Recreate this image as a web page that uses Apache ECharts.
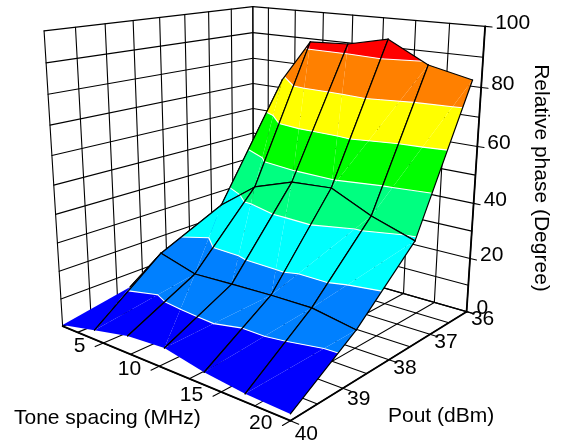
<!DOCTYPE html><html><head><meta charset="utf-8"><style>html,body{margin:0;padding:0;background:#fff}#c{width:566px;height:446px}</style></head><body><div id="c"></div>
<script src="https://cdn.jsdelivr.net/npm/echarts@6/dist/echarts.min.js"></script>
<script>
// ---- data ----
var toneMHz=[1,4.2,7.3,10.5,13.7,16.8,20];
var poutRow0=[40,40,40,40,40,40,40];
var poutRow1=[38.75,38.75,38.75,38.75,38.75,38.75,38.75];
var poutRow2=[37.5,37.5,37.5,37.5,37.5,37.5,37.5];
var poutRow3=[36.25,36.09,36.25,36.25,36.25,36.25,36.25];
var phaseRow0=[0.4,3.4,6.1,7.0,4.2,2.6,2.1];
var phaseRow1=[4.8,21.7,18.0,18.6,19.1,19.2,16.7];
var phaseRow2=[11,31.9,41.8,46.6,47.6,41.2,36.4];
var phaseRow3=[20,73.7,89.9,90.6,93.7,86.5,83.3];
var toneTicks=[5,10,15,20];
var toneGrid=[1,2.5,5,7.5,10,12.5,15,17.5,20];
var poutTicks=[36,37,38,39,40];
var poutGridLines=[36,36.5,37,37.5,38,38.5,39,39.5,40];
var phaseTicks=[0,20,40,60,80,100];
var phaseGridLines=[0,10,20,30,40,50,60,70,80,90,100];
var bandLevels=[0,12.5,25,37.5,50,62.5,75,87.5,100];
var bandColors=['#0000ff','#0080ff','#00ffff','#00ff80','#00ff00','#ffff00','#ff8000','#ff0000'];
var toneRange=[1,20],poutRange=[40,36],phaseRange=[0,100];
// ---- 3D box calibration: box corner (u,v,w) -> screen ----
var boxCorners=[[0,0,0,63,325],[1,0,0,290,422],[1,1,0,467,310],[0,1,0,253,252],[0,0,1,44,31],[0,1,1,253,6],[1,1,1,485,27]];
function solve(A,b){var n=b.length,M=A.map(function(r,i){return r.concat([b[i]])});for(var i=0;i<n;i++){var p=i,k;for(k=i+1;k<n;k++)if(Math.abs(M[k][i])>Math.abs(M[p][i]))p=k;var t=M[i];M[i]=M[p];M[p]=t;for(k=0;k<n;k++)if(k!=i){var f=M[k][i]/M[i][i];for(var j=i;j<=n;j++)M[k][j]-=f*M[i][j];}}return M.map(function(r,i){return r[n]/r[i]});}
var R=[],Y=[];boxCorners.forEach(function(c){var u=c[0],v=c[1],w=c[2],x=c[3],y=c[4];R.push([u,v,w,1,0,0,0,0,-x*u,-x*v,-x*w]);Y.push(x);R.push([0,0,0,0,u,v,w,1,-y*u,-y*v,-y*w]);Y.push(y);});
var N=[],B=[];for(var i=0;i<11;i++){N.push([]);var s=0,k;for(k=0;k<R.length;k++)s+=R[k][i]*Y[k];B.push(s);for(var j=0;j<11;j++){s=0;for(k=0;k<R.length;k++)s+=R[k][i]*R[k][j];N[i].push(s);}}
var P=solve(N,B);
function proj(u,v,w){var d=P[8]*u+P[9]*v+P[10]*w+1;return [(P[0]*u+P[1]*v+P[2]*w+P[3])/d,(P[4]*u+P[5]*v+P[6]*w+P[7])/d];}
function U(t){return (t-toneRange[0])/(toneRange[1]-toneRange[0]);}
function V(p){return (p-poutRange[0])/(poutRange[1]-poutRange[0]);}
function W(z){return (z-phaseRange[0])/(phaseRange[1]-phaseRange[0]);}
var poutGrid=[poutRow0,poutRow1,poutRow2,poutRow3],phaseGrid=[phaseRow0,phaseRow1,phaseRow2,phaseRow3];
function vtx(c,r){return [U(toneMHz[c]),V(poutGrid[r][c]),phaseGrid[r][c]];}
function scr(api,u,v,w){return api.coord(proj(u,v,w));}
function P3(api,q){return scr(api,q[0],q[1],W(q[2]));}
function lerp(a,b,t){return [a[0]+(b[0]-a[0])*t,a[1]+(b[1]-a[1])*t,a[2]+(b[2]-a[2])*t];}
function clip(poly,lim,keepAbove){var out=[];for(var i=0;i<poly.length;i++){var a=poly[i],b=poly[(i+1)%poly.length];var ai=keepAbove?a[2]>=lim:a[2]<=lim,bi=keepAbove?b[2]>=lim:b[2]<=lim;if(ai)out.push(a);if(ai!==bi)out.push(lerp(a,b,(lim-a[2])/(b[2]-a[2])));}return out;}
function seg(api,a,b,color,w){return {type:'line',shape:{x1:a[0],y1:a[1],x2:b[0],y2:b[1]},style:{stroke:color,lineWidth:w,lineCap:'round'},silent:true};}
function triangle(api,t,kids){
  for(var b=0;b<bandColors.length;b++){var poly=clip(clip(t,bandLevels[b],true),bandLevels[b+1],false);if(poly.length>=3)kids.push({type:'polygon',shape:{points:poly.map(function(q){return P3(api,q);})},style:{fill:bandColors[b]},silent:true});}
  for(var l=1;l<bandLevels.length-1;l++){var L=bandLevels[l],pts=[];for(var e=0;e<3;e++){var a=t[e],c=t[(e+1)%3];if((a[2]<L)!==(c[2]<L))pts.push(lerp(a,c,(L-a[2])/(c[2]-a[2])));}if(pts.length===2)kids.push(seg(api,P3(api,pts[0]),P3(api,pts[1]),'#ffffff',1.1));}
}
// ---- walls, floor and axes ----
function boxItem(params,api){var kids=[],K='#000000',lw=1.1;
  toneGrid.forEach(function(t){var f=U(t);
    kids.push(seg(api,scr(api,f,1,0),scr(api,f,1,1),K,lw));
    kids.push(seg(api,scr(api,f,0,0),scr(api,f,1,0),K,lw));});
  poutGridLines.forEach(function(p){var f=V(p);
    kids.push(seg(api,scr(api,0,f,0),scr(api,0,f,1),K,lw));
    kids.push(seg(api,scr(api,0,f,0),scr(api,1,f,0),K,lw));});
  phaseGridLines.forEach(function(z){var g=W(z);
    kids.push(seg(api,scr(api,0,0,g),scr(api,0,1,g),K,lw));
    kids.push(seg(api,scr(api,0,1,g),scr(api,1,1,g),K,lw));});
  return {type:'group',children:kids};}
function frontItem(params,api){var kids=[],K='#000000',F='21px "Liberation Sans"';
  kids.push(seg(api,scr(api,0,0,0),scr(api,1,0,0),K,1.8));
  kids.push(seg(api,scr(api,1,0,0),scr(api,1,1,0),K,1.8));
  kids.push(seg(api,scr(api,1,1,0),scr(api,1,1,1),K,1.8));
  toneTicks.forEach(function(t){kids.push(seg(api,scr(api,U(t),0,0),scr(api,U(t),-0.035,0),K,1.1));
    var q=scr(api,U(t),0,0);kids.push({type:'text',x:q[0]-18,y:q[1]+3,style:{text:String(t),font:F,fill:'#000',align:'right',verticalAlign:'middle'},silent:true});});
  poutTicks.forEach(function(p){kids.push(seg(api,scr(api,1,V(p),0),scr(api,1.03,V(p),0),K,1.1));
    var q=scr(api,1,V(p),0),vv=V(p);kids.push({type:'text',x:q[0]+16,y:q[1]+8+Math.max(0,0.5-vv)*12,style:{text:String(p),font:F,fill:'#000',align:'center',verticalAlign:'middle'},silent:true});});
  phaseTicks.forEach(function(z){var w=W(z);kids.push(seg(api,scr(api,1,1,w),scr(api,1.025,1,w),K,1.1));
    var q=scr(api,1,1,w);kids.push({type:'text',x:q[0]+10,y:q[1]-3,style:{text:String(z),font:F,fill:'#000',align:'left',verticalAlign:'middle'},silent:true});});
  return {type:'group',children:kids};}
// ---- surface ----
var patches=[];for(var r0=poutGrid.length-2;r0>=0;r0--)for(var c0=0;c0<toneMHz.length-1;c0++)patches.push([c0,r0]);
function patchItem(params,api){var c=api.value(0),r=api.value(1),kids=[];
  var a=vtx(c,r),b=vtx(c+1,r),d=vtx(c,r+1),e=vtx(c+1,r+1);
  if(Math.abs(e[2]-a[2])<=Math.abs(d[2]-b[2])){triangle(api,[a,b,e],kids);triangle(api,[a,e,d],kids);}
  else{triangle(api,[a,b,d],kids);triangle(api,[b,e,d],kids);}
  var K='#000000',lw=1.2;
  kids.push(seg(api,P3(api,d),P3(api,e),K,lw));
  if(c>0)kids.push(seg(api,P3(api,a),P3(api,d),K,lw));
  if(r>0)kids.push(seg(api,P3(api,a),P3(api,b),K,lw));
  kids.push(seg(api,P3(api,b),P3(api,e),K,lw));
  return {type:'group',children:kids};}
function axisCommon(max,inv){return {type:'value',min:0,max:max,inverse:!!inv,show:false};}
var chart=echarts.init(document.getElementById('c'),null,{renderer:'canvas'});
chart.setOption({animation:false,backgroundColor:'#ffffff',
 grid:{left:0,right:0,top:0,bottom:0},xAxis:axisCommon(566),yAxis:axisCommon(446,true),tooltip:{show:false},
 graphic:[
  {type:'text',x:14,y:418,silent:true,z:10,style:{text:'Tone spacing (MHz)',font:'21px "Liberation Sans"',fill:'#000',verticalAlign:'middle'}},
  {type:'text',x:388,y:416,silent:true,z:10,style:{text:'Pout (dBm)',font:'21px "Liberation Sans"',fill:'#000',verticalAlign:'middle'}},
  {type:'text',x:541,y:178,rotation:-Math.PI/2,silent:true,z:10,style:{text:'Relative phase (Degree)',font:'21px "Liberation Sans"',fill:'#000',align:'center',verticalAlign:'middle'}}
 ],
 series:[
  {type:'custom',coordinateSystem:'cartesian2d',clip:false,silent:true,data:[[0,0]],encode:{x:0,y:1},renderItem:boxItem,z:1},
  {type:'custom',coordinateSystem:'cartesian2d',clip:false,silent:true,data:patches,encode:{x:0,y:1},renderItem:patchItem,z:2},
  {type:'custom',coordinateSystem:'cartesian2d',clip:false,silent:true,data:[[0,0]],encode:{x:0,y:1},renderItem:frontItem,z:3}
 ]});
</script></body></html>
